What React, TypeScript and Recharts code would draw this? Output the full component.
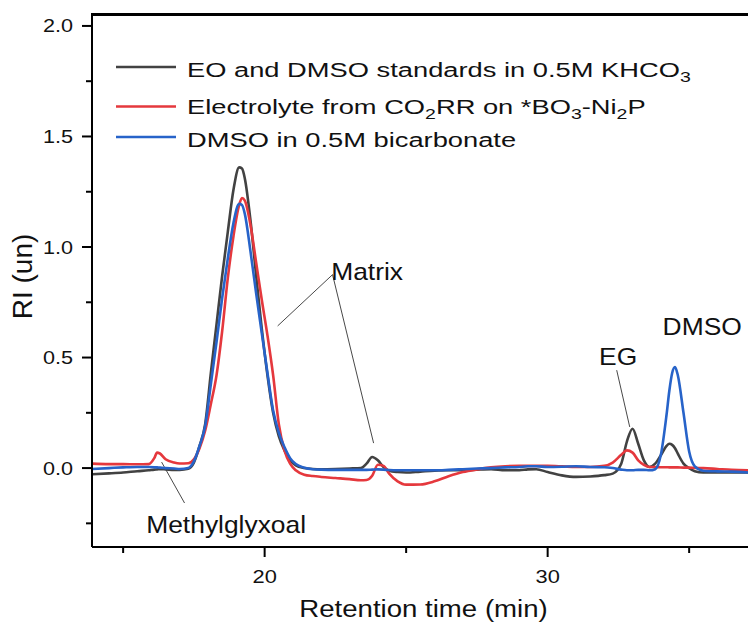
import { Legend, Line, LineChart, ReferenceDot, ReferenceLine, XAxis, YAxis } from "recharts";

// retention time (min)
const TIME = [
  13.9, 14.5, 15, 15.5, 15.9, 16.1, 16.2, 16.3, 16.5, 16.8, 17, 17.3, 17.5, 17.7, 17.9, 18.1, 18.3, 18.5, 18.7, 18.9,
  19.1, 19.2, 19.3, 19.5, 19.7, 19.9, 20.1, 20.3, 20.5, 20.7, 20.9, 21.1, 21.4, 21.7, 22, 22.5, 23, 23.4, 23.6, 23.8,
  24, 24.2, 24.4, 24.7, 25, 25.5, 26, 26.5, 27, 27.5, 28, 28.5, 29, 29.3, 29.6, 30, 30.5, 31, 31.5, 32, 32.3, 32.6,
  32.8, 33, 33.2, 33.4, 33.6, 33.8, 34, 34.2, 34.3, 34.4, 34.5, 34.6, 34.8, 35, 35.2, 35.5, 36, 36.5, 37.1,
];

// RI signal, EO and DMSO standards in 0.5M KHCO3
const EO_DMSO_STD = [
  -0.028, -0.024, -0.02, -0.014, -0.01, -0.007, -0.006, -0.005, -0.006, -0.008, -0.008, -0.003, 0.025, 0.1, 0.2, 0.43,
  0.65, 0.87, 1.07, 1.26, 1.36, 1.355, 1.31, 1.12, 0.87, 0.63, 0.42, 0.25, 0.145, 0.08, 0.035, 0.012, 0.0, -0.004,
  -0.005, -0.004, -0.002, 0.0, 0.02, 0.05, 0.035, 0.005, -0.012, -0.018, -0.02, -0.016, -0.012, -0.01, -0.01, -0.007,
  -0.005, -0.01, -0.01, -0.006, -0.005, -0.018, -0.033, -0.04, -0.038, -0.032, -0.025, 0.02, 0.12, 0.178, 0.11, 0.035,
  0.005, 0.02, 0.058, 0.1, 0.11, 0.105, 0.09, 0.065, 0.02, 0.0, -0.014, -0.02, -0.02, -0.02, -0.02,
];

// electrolyte from CO2RR on *BO3-Ni2P
const ELECTROLYTE = [
  0.02, 0.018, 0.018, 0.017, 0.018, 0.045, 0.07, 0.066, 0.04, 0.025, 0.021, 0.022, 0.04, 0.09, 0.17, 0.29, 0.42, 0.62,
  0.86, 1.05, 1.19, 1.222, 1.21, 1.1, 0.93, 0.76, 0.6, 0.42, 0.2, 0.08, 0.02, -0.01, -0.03, -0.036, -0.04, -0.045,
  -0.05, -0.055, -0.054, -0.035, 0.015, 0.01, -0.025, -0.06, -0.075, -0.074, -0.06, -0.037, -0.018, -0.006, 0.003,
  0.008, 0.01, 0.01, 0.01, 0.01, 0.008, 0.005, 0.005, 0.01, 0.025, 0.06, 0.08, 0.07, 0.035, 0.015, 0.005, 0.005, 0.004,
  0.004, 0.003, 0.003, 0.003, 0.003, 0.002, 0.002, 0.001, 0.0, -0.004, -0.008, -0.01,
];

// DMSO in 0.5M bicarbonate
const DMSO_BICARB = [
  -0.004, 0.0, 0.003, 0.005, 0.005, 0.004, 0.003, 0.002, 0.0, -0.002, -0.004, 0.0, 0.03, 0.1, 0.19, 0.38, 0.57, 0.77,
  0.95, 1.11, 1.195, 1.19, 1.15, 0.98, 0.79, 0.61, 0.43, 0.26, 0.16, 0.095, 0.045, 0.018, 0.002, -0.005, -0.007,
  -0.008, -0.008, -0.008, -0.008, -0.007, -0.006, -0.007, -0.009, -0.01, -0.01, -0.01, -0.01, -0.008, -0.005, -0.002,
  0.0, 0.003, 0.005, 0.008, 0.008, 0.005, 0.006, 0.008, 0.005, 0.004, 0.0, -0.007, -0.01, -0.01, -0.008, -0.008, -0.01,
  -0.005, 0.06, 0.24, 0.35, 0.43, 0.457, 0.42, 0.25, 0.075, 0.008, -0.012, -0.015, -0.016, -0.02,
];

const X_TICKS = [15, 20, 25, 30, 35];
const X_LABELED = [20, 30];
const Y_TICKS = [-0.25, 0, 0.25, 0.5, 0.75, 1, 1.25, 1.5, 1.75, 2];
const Y_LABELED = [0, 0.5, 1, 1.5, 2];

const X_DOMAIN: [number, number] = [13.9, 37.15];
const Y_DOMAIN: [number, number] = [-0.357, 2.054];

// peak labels and their leader lines, in data coordinates
const ANNOTATIONS = [
  { text: "Matrix", x: 23.62, y: 0.851 },
  { text: "EG", x: 32.49, y: 0.466 },
  { text: "DMSO", x: 35.46, y: 0.602 },
  { text: "Methylglyxoal", x: 18.64, y: -0.294 },
];
const LEADERS = [
  [22.4, 0.875, 20.46, 0.643],
  [22.4, 0.875, 23.85, 0.113],
  [16.36, 0.027, 17.17, -0.158],
  [32.44, 0.443, 32.9, 0.186],
];

const SERIES = [
  { key: "std", name: "EO and DMSO standards in 0.5M KHCO3", color: "#424242" },
  { key: "ele", name: "Electrolyte from CO2RR on *BO3-Ni2P", color: "#e5383d" },
  { key: "dmso", name: "DMSO in 0.5M bicarbonate", color: "#2763c9" },
];

const data = TIME.map((t, i) => ({ t, std: EO_DMSO_STD[i], ele: ELECTROLYTE[i], dmso: DMSO_BICARB[i] }));

const FONT = '"Liberation Sans", Arial, sans-serif';
const PLOT_TOP = 14;
const PLOT_LEFT = 92;

function SText({ x, y, size, sx = 1, anchor = "start", rotate = 0, children }: any) {
  return (
    <text
      transform={`translate(${x},${y}) rotate(${rotate}) scale(${sx},1)`}
      fontSize={size}
      fontFamily={FONT}
      textAnchor={anchor}
      fill="#111"
    >
      {children}
    </text>
  );
}

const XTick = (props: any) => {
  const { x, y, payload } = props;
  const major = X_LABELED.includes(payload.value);
  return (
    <g>
      <line x1={x} x2={x} y1={y} y2={y + (major ? 10 : 6)} stroke="#000" strokeWidth={2} />
      {major && (
        <SText x={x} y={y + 36} size={19} sx={1.15} anchor="middle">
          {payload.value}
        </SText>
      )}
    </g>
  );
};

const YTick = (props: any) => {
  const { x, y, payload } = props;
  const major = Y_LABELED.includes(payload.value);
  return (
    <g>
      <line x1={x - (major ? 10 : 6)} x2={x} y1={y} y2={y} stroke="#000" strokeWidth={2} />
      {major && (
        <SText x={x - 19} y={y + 6.5} size={18} sx={1.2} anchor="end">
          {payload.value.toFixed(1)}
        </SText>
      )}
    </g>
  );
};

const LEGEND_TEXT: Record<string, any> = {
  std: (
    <>
      EO and DMSO standards in 0.5M KHCO<tspan dy={5} fontSize={15}>3</tspan>
    </>
  ),
  ele: (
    <>
      Electrolyte from CO<tspan dy={5} fontSize={15}>2</tspan>
      <tspan dy={-5}>RR on *BO</tspan>
      <tspan dy={5} fontSize={15}>3</tspan>
      <tspan dy={-5}>-Ni</tspan>
      <tspan dy={5} fontSize={15}>2</tspan>
      <tspan dy={-5}>P</tspan>
    </>
  ),
  dmso: <>DMSO in 0.5M bicarbonate</>,
};

const LEGEND_ROWS = [
  { line: 67, base: 77 },
  { line: 106.5, base: 114 },
  { line: 137, base: 147 },
];

function renderLegend() {
  return (
    <svg width={748} height={170} style={{ display: "block" }}>
      {SERIES.map((s, i) => (
        <g key={s.key}>
          <line x1={116} x2={176} y1={LEGEND_ROWS[i].line} y2={LEGEND_ROWS[i].line} stroke={s.color} strokeWidth={2.6} />
          <SText x={187} y={LEGEND_ROWS[i].base} size={21} sx={1.3}>
            {LEGEND_TEXT[s.key]}
          </SText>
        </g>
      ))}
    </svg>
  );
}

export default function App() {
  return (
    <div style={{ position: "absolute", left: 0, top: 0, width: 748, height: 630, overflow: "hidden", background: "#fff" }}>
      <LineChart width={750} height={630} data={data} margin={{ top: PLOT_TOP, right: 0, bottom: 0, left: 0 }}>
        <XAxis
          dataKey="t"
          type="number"
          domain={X_DOMAIN}
          ticks={X_TICKS}
          allowDataOverflow
          interval={0}
          height={83}
          tickSize={0}
          tickMargin={0}
          tickLine={false}
          tick={XTick}
          axisLine={{ stroke: "#000", strokeWidth: 2 }}
          label={{
            content: (p: any) => (
              <SText x={p.viewBox.x + 331.5} y={p.viewBox.y + 70} size={24} sx={1.15} anchor="middle">
                Retention time (min)
              </SText>
            ),
          }}
        />
        <YAxis
          type="number"
          domain={Y_DOMAIN}
          ticks={Y_TICKS}
          allowDataOverflow
          interval={0}
          width={PLOT_LEFT}
          tickSize={0}
          tickMargin={0}
          tickLine={false}
          tick={YTick}
          axisLine={{ stroke: "#000", strokeWidth: 2 }}
          label={{
            content: (p: any) => (
              <SText x={32} y={p.viewBox.y + p.viewBox.height / 2 - 4} size={28} rotate={-90} anchor="middle">
                RI (un)
              </SText>
            ),
          }}
        />
        {LEADERS.map(([x1, y1, x2, y2], i) => (
          <ReferenceLine
            key={i}
            segment={[
              { x: x1, y: y1 },
              { x: x2, y: y2 },
            ]}
            stroke="#333"
            strokeWidth={0.9}
          />
        ))}
        {SERIES.map((s) => (
          <Line
            key={s.key}
            type="monotone"
            dataKey={s.key}
            name={s.name}
            stroke={s.color}
            strokeWidth={2.6}
            dot={false}
            activeDot={false}
            isAnimationActive={false}
          />
        ))}
        {ANNOTATIONS.map((a) => (
          <ReferenceDot
            key={a.text}
            x={a.x}
            y={a.y}
            r={0}
            shape={(p: any) => (
              <SText x={p.cx} y={p.cy} size={24} sx={1.1} anchor="middle">
                {a.text}
              </SText>
            )}
          />
        ))}
        <Legend
          layout="horizontal"
          verticalAlign="middle"
          align="center"
          wrapperStyle={{ left: 0, top: 0, width: 748, height: 170 }}
          content={renderLegend}
        />
      </LineChart>
      {/* top edge of the plot frame */}
      <div
        style={{
          position: "absolute",
          left: PLOT_LEFT - 1,
          top: PLOT_TOP - 1,
          width: 748 - PLOT_LEFT + 1,
          height: 3,
          background: "#000",
          zIndex: 10,
        }}
      />
    </div>
  );
}
